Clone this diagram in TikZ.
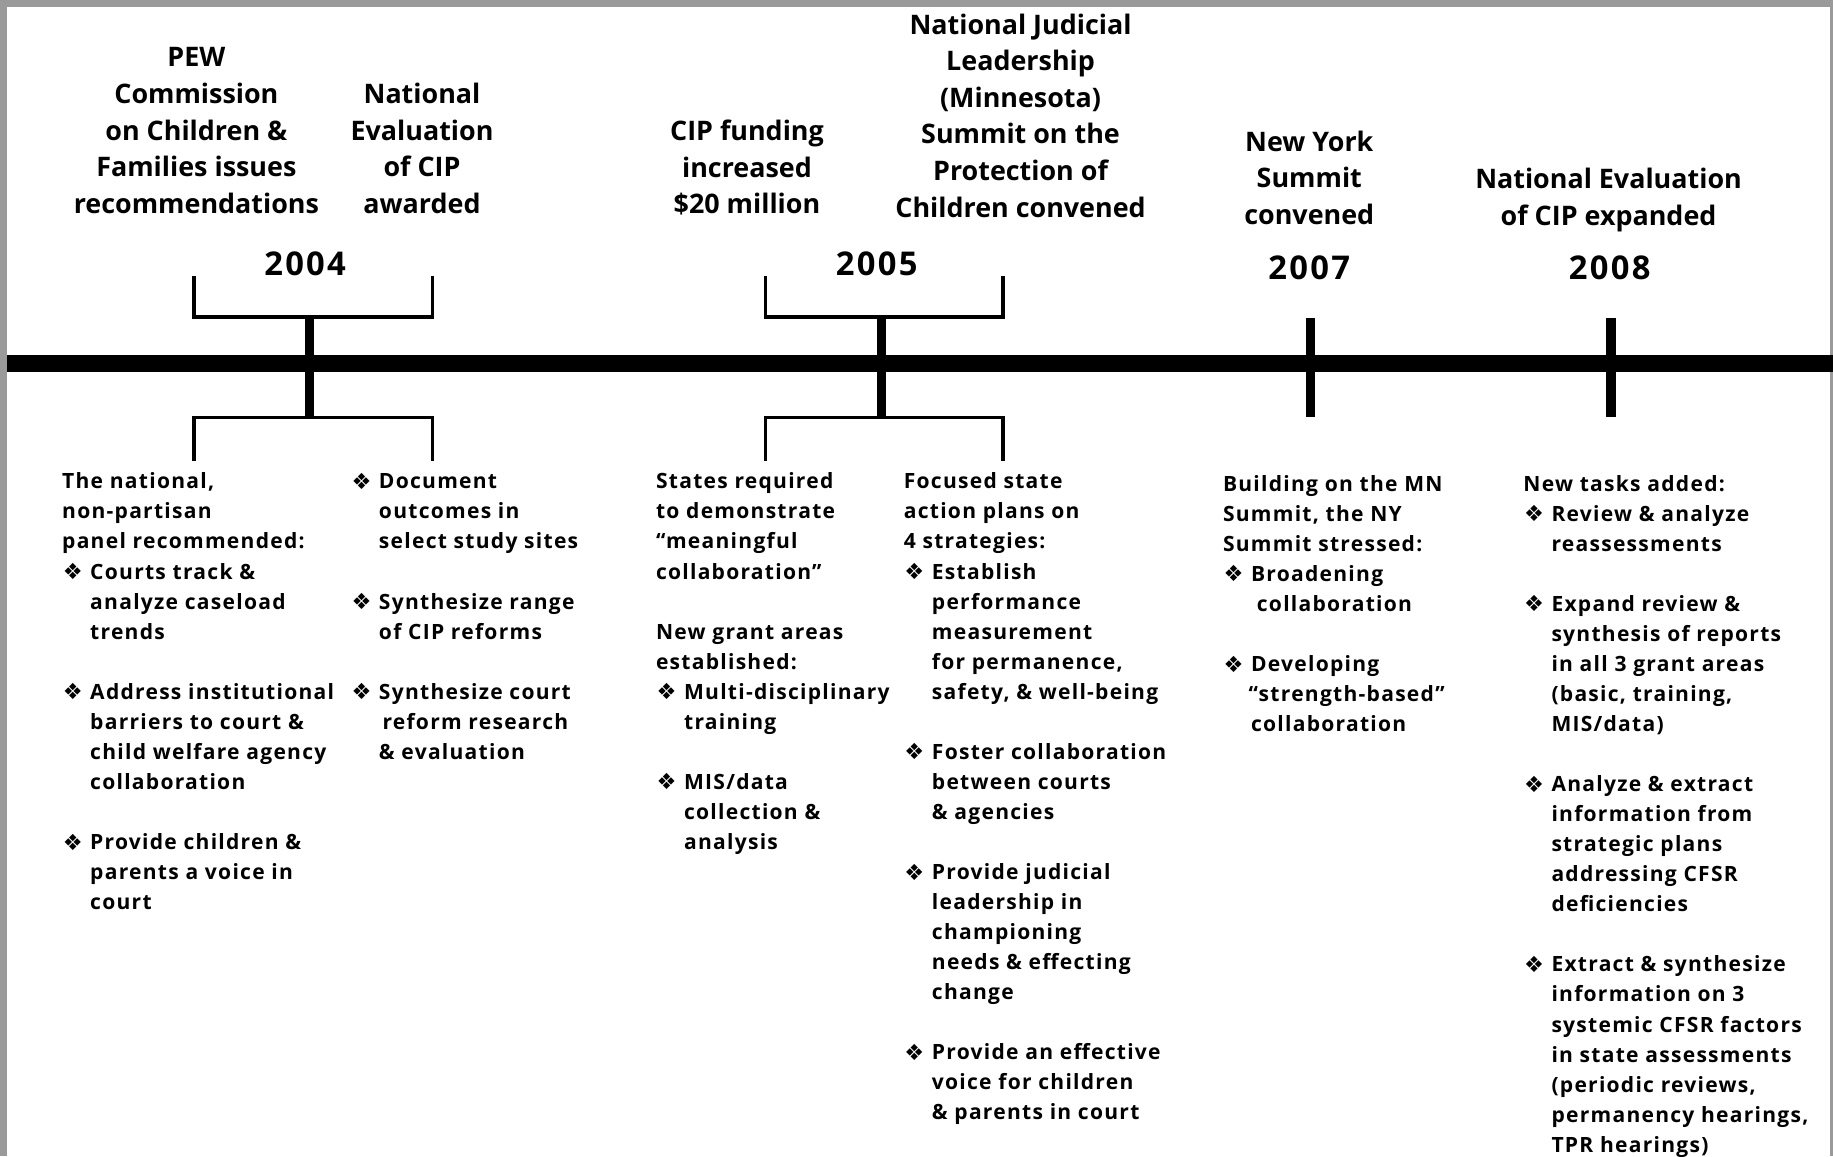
\documentclass[tikz,border=0pt]{standalone}
\usepackage{fontspec}
\setmainfont{Open Sans}
\newfontfamily\bodyfont[LetterSpace=6]{Open Sans}
\newfontfamily\yearfont[LetterSpace=7]{Open Sans}
\newfontfamily\dingfont{DejaVu Sans}
\newcommand\bul{\makebox[24pt][l]{\hspace{0.5pt}\raisebox{-0.5pt}{\dingfont\mdseries\fontsize{19}{19}\selectfont ❖}}}
\newcommand\ind{\hspace*{24pt}}
\newcommand\fst[1]{\rule{0pt}{#1}}
\definecolor{frame}{HTML}{9A9A9A}
\tikzset{
  bar/.style={line width=14pt},
  stem/.style={line width=8pt},
  brk/.style={line width=3pt, line join=miter},
  ttl/.style={font=\fontsize{23}{31.3}\selectfont\bfseries, align=center, inner sep=0pt, anchor=north},
  yr/.style={font=\yearfont\fontsize{28}{30}\selectfont\bfseries, inner sep=0pt, anchor=base},
  bdy/.style={font=\bodyfont\fontsize{18}{25.7}\selectfont\bfseries, align=left, inner sep=0pt, anchor=north west},
}
\begin{document}
\begin{tikzpicture}[x=1pt,y=-1pt]
\useasboundingbox (0,0) rectangle (1568,989);
\fill[frame] (0,0) rectangle (1568,989);
\fill[white] (6,6) rectangle (1565,989);
% main bar
\coordinate (L) at (6,311);
\coordinate (R) at (1568,311);
\draw[bar] (L) -- (R);
% 2004
\coordinate (a1) at (166,236); \coordinate (a2) at (166,271); \coordinate (a3) at (370,271); \coordinate (a4) at (370,236);
\coordinate (a5) at (265,271); \coordinate (a6) at (265,357);
\coordinate (a7) at (166,394); \coordinate (a8) at (166,357); \coordinate (a9) at (370,357); \coordinate (a10) at (370,394);
\draw[brk] (a1) -- (a2) -- (a3) -- (a4);
\draw[stem] (a5) -- (a6);
\draw[brk] (a7) -- (a8) -- (a9) -- (a10);
% 2005
\coordinate (b1) at (655,236); \coordinate (b2) at (655,271); \coordinate (b3) at (858,271); \coordinate (b4) at (858,236);
\coordinate (b5) at (754,271); \coordinate (b6) at (754,357);
\coordinate (b7) at (655,394); \coordinate (b8) at (655,357); \coordinate (b9) at (858,357); \coordinate (b10) at (858,394);
\draw[brk] (b1) -- (b2) -- (b3) -- (b4);
\draw[stem] (b5) -- (b6);
\draw[brk] (b7) -- (b8) -- (b9) -- (b10);
% 2007, 2008
\coordinate (c1) at (1121,272); \coordinate (c2) at (1121,357);
\coordinate (d1) at (1378,272); \coordinate (d2) at (1378,357);
\draw[stem] (c1) -- (c2);
\draw[stem] (d1) -- (d2);
% years
\node[yr] (y04) at (261,236) {2004};
\node[yr] (y05) at (750,236) {2005};
\node[yr] (y07) at (1120,239) {2007};
\node[yr] (y08) at (1377,239) {2008};
% titles (north anchor = first baseline - 21)
\node[ttl] (t1) at (168,36) {\fst{21pt}PEW\\Commission\\on Children \&\\Families issues\\recommendations};
\node[ttl] (t2) at (361,67.5) {\fst{21pt}National\\Evaluation\\of CIP\\awarded};
\node[ttl] (t3) at (639,99) {\fst{21pt}CIP funding\\increased\\\$20 million};
\node[ttl] (t4) at (873,8) {\fst{21pt}National Judicial\\Leadership\\(Minnesota)\\Summit on the\\Protection of\\Children convened};
\node[ttl] (t5) at (1120,108) {\fst{21pt}New York\\Summit\\convened};
\node[ttl] (t6) at (1376,140) {\fst{21pt}National Evaluation\\of CIP expanded};
% body texts (north anchor = first baseline - 16)
\node[bdy] (p1) at (53,402) {\fst{16pt}The national,\\non-partisan\\panel recommended:\\\bul Courts track \&\\\ind analyze caseload\\\ind trends\\[25.7pt]\bul Address institutional\\\ind barriers to court \&\\\ind child welfare agency\\\ind collaboration\\[25.7pt]\bul Provide children \&\\\ind parents a voice in\\\ind court};
\node[bdy] (p2) at (300,402) {\fst{16pt}\bul Document\\\ind outcomes in\\\ind select study sites\\[25.7pt]\bul Synthesize range\\\ind of CIP reforms\\[25.7pt]\bul Synthesize court\\\hspace*{27pt}reform research\\\ind \& evaluation};
\node[bdy] (p3) at (561,402) {\fst{16pt}States required\\to demonstrate\\“meaningful\\collaboration”\\[25.7pt]New grant areas\\established:\\\bul Multi-disciplinary\\\ind training\\[25.7pt]\bul MIS/data\\\ind collection \&\\\ind analysis};
\node[bdy] (p4) at (773,402) {\fst{16pt}Focused state\\action plans on\\4 strategies:\\\bul Establish\\\ind performance\\\ind measurement\\\ind for permanence,\\\ind safety, \& well-being\\[25.7pt]\bul Foster collaboration\\\ind between courts\\\ind \& agencies\\[25.7pt]\bul Provide judicial\\\ind leadership in\\\ind championing\\\ind needs \& effecting\\\ind change\\[25.7pt]\bul Provide an effective\\\ind voice for children\\\ind \& parents in court};
\node[bdy] (p5) at (1046,404) {\fst{16pt}Building on the MN\\Summit, the NY\\Summit stressed:\\\bul Broadening\\\hspace*{29pt}collaboration\\[25.7pt]\bul Developing\\\hspace*{22pt}“strength-based”\\\ind collaboration};
\node[bdy] (p6) at (1303,404) {\fst{16pt}New tasks added:\\\bul Review \& analyze\\\ind reassessments\\[25.7pt]\bul Expand review \&\\\ind synthesis of reports\\\ind in all 3 grant areas\\\ind (basic, training,\\\ind MIS/data)\\[25.7pt]\bul Analyze \& extract\\\ind information from\\\ind strategic plans\\\ind addressing CFSR\\\ind deficiencies\\[25.7pt]\bul Extract \& synthesize\\\ind information on 3\\\ind systemic CFSR factors\\\ind in state assessments\\\ind (periodic reviews,\\\ind permanency hearings,\\\ind TPR hearings)};
\end{tikzpicture}
\end{document}
